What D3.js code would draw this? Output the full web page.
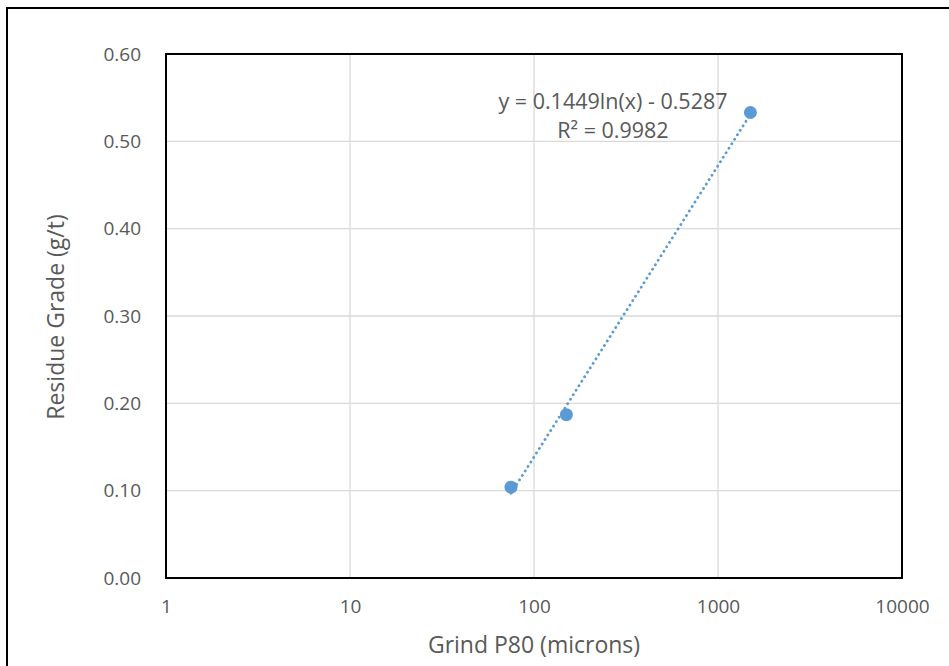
<!DOCTYPE html>
<html><head><meta charset="utf-8">
<script src="https://cdn.jsdelivr.net/npm/d3@7"></script>
<style>
html,body{margin:0;padding:0;background:#fff;}
text{font-family:"Open Sans","Lato",sans-serif;fill:#595959;}
</style></head>
<body>
<svg id="c" width="949" height="666"></svg>
<script>
const grindP80 = [75, 150, 1500];
const residueGrade = [0.104, 0.187, 0.533];
const xTicks = [1, 10, 100, 1000, 10000];
const yTicks = [0, 0.1, 0.2, 0.3, 0.4, 0.5, 0.6];
const trendA = 0.1449, trendB = -0.5287;
const equationLabel = "y = 0.1449ln(x) - 0.5287";
const r2Label = "R² = 0.9982";
const xTitle = "Grind P80 (microns)";
const yTitle = "Residue Grade (g/t)";

const svg = d3.select("#c");
const L = 166, R = 902, T = 54, B = 578;
const x = d3.scaleLog().domain([1, 10000]).range([L, R]);
const y = d3.scaleLinear().domain([0, 0.6]).range([B, T]);
const blue = "#5B9BD5";

// outer frame
svg.append("rect").attr("x", 7).attr("y", 8).attr("width", 960).attr("height", 680)
  .attr("fill", "none").attr("stroke", "#000").attr("stroke-width", 2);

// gridlines
svg.append("g").selectAll("line").data(yTicks).join("line")
  .attr("x1", L).attr("x2", R).attr("y1", d => y(d)).attr("y2", d => y(d))
  .attr("stroke", "#d9d9d9").attr("stroke-width", 1.3);
svg.append("g").selectAll("line").data(xTicks).join("line")
  .attr("y1", T).attr("y2", B).attr("x1", d => x(d)).attr("x2", d => x(d))
  .attr("stroke", "#d9d9d9").attr("stroke-width", 1.3);

// plot border
svg.append("rect").attr("x", L).attr("y", T).attr("width", R - L).attr("height", B - T)
  .attr("fill", "none").attr("stroke", "#000").attr("stroke-width", 2);

// axes labels via d3 axes
const xAxis = svg.append("g").attr("transform", `translate(0,${B})`)
  .call(d3.axisBottom(x).tickValues(xTicks).tickFormat(d3.format("d")).tickSize(0).tickPadding(22));
xAxis.select(".domain").remove();
xAxis.attr("font-size", 19).attr("font-family", null);
xAxis.selectAll("text").attr("font-size", 19).style("fill", "#595959");

const yAxis = svg.append("g").attr("transform", `translate(${L},0)`)
  .call(d3.axisLeft(y).tickValues(yTicks).tickFormat(d3.format(".2f")).tickSize(0).tickPadding(25));
yAxis.select(".domain").remove();
yAxis.attr("font-size", 19).attr("font-family", null);
yAxis.selectAll("text").attr("font-size", 19).style("fill", "#595959");

// trendline
const xs = d3.extent(grindP80);
const line = d3.line().x(d => x(d)).y(d => y(trendA * Math.log(d) + trendB));
svg.append("path").datum(xs).attr("d", line)
  .attr("fill", "none").attr("stroke", blue).attr("stroke-width", 2.8)
  .attr("stroke-dasharray", "0.1 5.2").attr("stroke-linecap", "round");

// points
svg.append("g").selectAll("circle").data(grindP80).join("circle")
  .attr("cx", d => x(d)).attr("cy", (d, i) => y(residueGrade[i])).attr("r", 6.5)
  .attr("fill", blue);

// equation
svg.append("text").attr("x", 613).attr("y", 109).attr("text-anchor", "middle")
  .attr("font-size", 21.5).text(equationLabel);
svg.append("text").attr("x", 613).attr("y", 138).attr("text-anchor", "middle")
  .attr("font-size", 21.5).text(r2Label);

// axis titles
svg.append("text").attr("x", 534).attr("y", 653).attr("text-anchor", "middle")
  .attr("font-size", 23).text(xTitle);
svg.append("text").attr("transform", `translate(64,${(T + B) / 2 + 1}) rotate(-90)`)
  .attr("text-anchor", "middle").attr("font-size", 23).text(yTitle);
</script>
</body></html>
